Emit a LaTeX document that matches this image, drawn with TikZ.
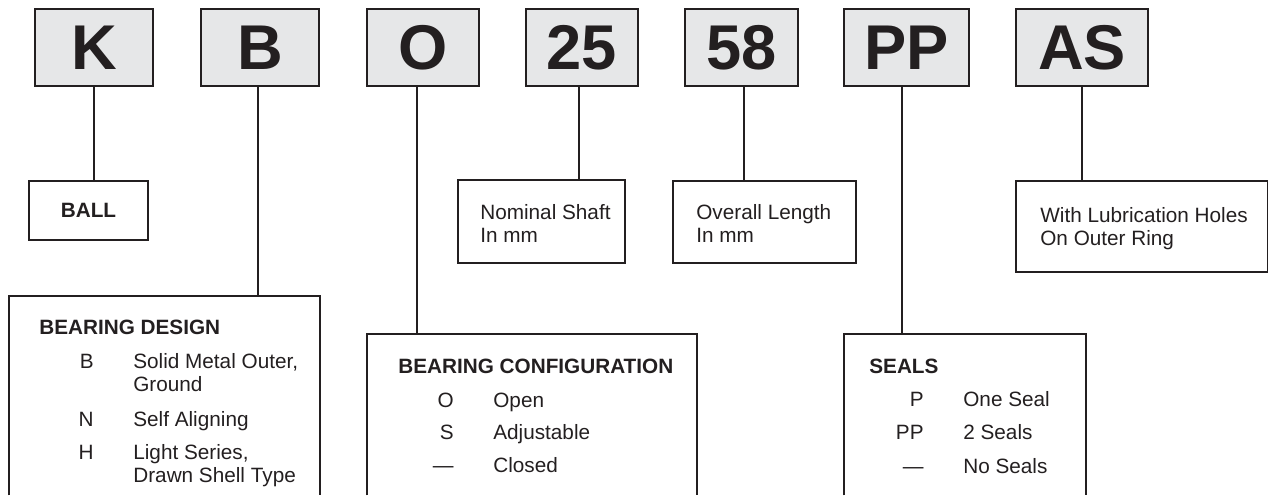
\documentclass[tikz,border=0pt]{standalone}
\usepackage{fontspec}
\setmainfont{Liberation Sans}
\usetikzlibrary{positioning}

\definecolor{ink}{HTML}{231F20}
\definecolor{keygray}{HTML}{E6E7E8}

\tikzset{
  code/.style={draw=ink, fill=keygray, line width=1.4pt, inner sep=0pt, minimum height=1.54cm,
    text=ink, font=\fontsize{36}{40}\selectfont\bfseries},
  note/.style={draw=ink, line width=1.1pt, inner sep=0pt},
  frame/.style={draw=ink, line width=1.1pt},
  link/.style={draw=ink, line width=1.1pt},
  txt/.style={inner sep=0pt, text=ink, align=left, font=\fontsize{11.8}{13}\selectfont},
  head/.style={txt, font=\fontsize{11.8}{13}\selectfont\bfseries},
}

\begin{document}
\begin{tikzpicture}[x=0.02cm, y=-0.02cm]
\useasboundingbox (0,0) rectangle (1269,495);

% part number boxes
\node[code, minimum width=2.36cm] (k) at (94,47.5) {K};
\node[code, minimum width=2.36cm] (b) at (260,47.5) {B};
\node[code, minimum width=2.25cm] (o) at (423,47.5) {O};
\node[code, minimum width=2.25cm] (shaft) at (582,47.5) {25};
\node[code, minimum width=2.26cm] (len) at (741.5,47.5) {58};
\node[code, minimum width=2.50cm] (pp) at (906.5,47.5) {PP};
\node[code, minimum width=2.64cm] (as) at (1082,47.5) {AS};

% small boxes (two-line texts sit on their last baseline)
\node[note, minimum width=2.38cm, minimum height=1.18cm, text=ink, font=\fontsize{11.8}{13}\selectfont\bfseries] (ball) at (88.5,210.5) {BALL};
\node[note, minimum width=3.34cm, minimum height=1.66cm] (nominal) at (541.5,221.5) {};
\node[txt, anchor=base west] (nominaltxt) at (480,242) {Nominal Shaft\\In mm};
\node[note, minimum width=3.66cm, minimum height=1.64cm] (overall) at (764.5,222) {};
\node[txt, anchor=base west] (overalltxt) at (696,242) {Overall Length\\In mm};
\node[note, minimum width=5.03cm, minimum height=1.82cm] (lube) at (1141.75,226.5) {};
\node[txt, anchor=base west] (lubetxt) at (1040,245) {With Lubrication Holes\\On Outer Ring};

% open boxes running off the bottom
\node[inner sep=0pt, minimum width=6.22cm, minimum height=3.98cm] (design) at (164.5,395.5) {};
\draw[frame] (design.south west) |- (design.north east) -- (design.south east);
\node[head, anchor=base west] (designhead) at (39,334) {BEARING DESIGN};
\node[txt, anchor=base east] (db) at (94,368) {B};
\node[txt, anchor=base west] (dbtxt) at (133,391) {Solid Metal Outer,\\Ground};
\node[txt, anchor=base east] (dn) at (94,426) {N};
\node[txt, anchor=base west] (dntxt) at (133,426) {Self Aligning};
\node[txt, anchor=base east] (dh) at (94,459) {H};
\node[txt, anchor=base west] (dhtxt) at (133,482) {Light Series,\\Drawn Shell Type};

\node[inner sep=0pt, minimum width=6.6cm, minimum height=3.22cm] (config) at (532,414.5) {};
\draw[frame] (config.south west) |- (config.north east) -- (config.south east);
\node[head, anchor=base west] (confighead) at (398,373) {BEARING CONFIGURATION};
\node[txt, anchor=base east] (co) at (454,407) {O};
\node[txt, anchor=base west] (cotxt) at (493,407) {Open};
\node[txt, anchor=base east] (cs) at (454,439) {S};
\node[txt, anchor=base west] (cstxt) at (493,439) {Adjustable};
\node[txt, anchor=base east] (cd) at (454,472) {—};
\node[txt, anchor=base west] (cdtxt) at (493,472) {Closed};

\node[inner sep=0pt, minimum width=4.84cm, minimum height=3.22cm] (seals) at (965,414.5) {};
\draw[frame] (seals.south west) |- (seals.north east) -- (seals.south east);
\node[head, anchor=base west] (sealshead) at (869,373) {SEALS};
\node[txt, anchor=base east] (sp) at (924,406) {P};
\node[txt, anchor=base west] (sptxt) at (963,406) {One Seal};
\node[txt, anchor=base east] (spp) at (924,439) {PP};
\node[txt, anchor=base west] (spptxt) at (963,439) {2 Seals};
\node[txt, anchor=base east] (sd) at (924,473) {—};
\node[txt, anchor=base west] (sdtxt) at (963,473) {No Seals};

% leaders
\draw[link] (k.south) -- (k.south |- ball.north);
\draw[link] ([xshift=-0.04cm]b.south) -- ([xshift=-0.04cm]b.south |- design.north);
\draw[link] ([xshift=-0.12cm]o.south) -- ([xshift=-0.12cm]o.south |- config.north);
\draw[link] ([xshift=-0.06cm]shaft.south) -- ([xshift=-0.06cm]shaft.south |- nominal.north);
\draw[link] ([xshift=0.05cm]len.south) -- ([xshift=0.05cm]len.south |- overall.north);
\draw[link] ([xshift=-0.09cm]pp.south) -- ([xshift=-0.09cm]pp.south |- seals.north);
\draw[link] (as.south) -- (as.south |- lube.north);

\end{tikzpicture}
\end{document}
